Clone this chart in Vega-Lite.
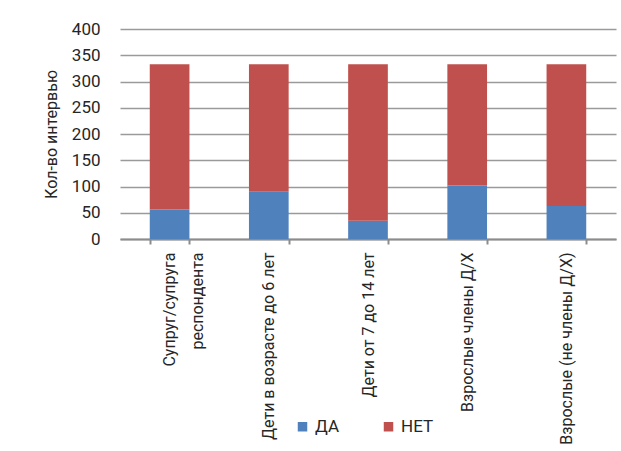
{
  "$schema": "https://vega.github.io/schema/vega-lite/v6.json",
  "autosize": {"type": "none"},
  "width": 496,
  "height": 210,
  "padding": {"left": 120, "top": 29, "right": 5, "bottom": 212},
  "background": "white",
  "data": {
    "values": [
      {"cat": "Супруг/супруга|респондента", "ord": 1, "s": "ДА", "v": 56},
      {"cat": "Супруг/супруга|респондента", "ord": 1, "s": "НЕТ", "v": 277},
      {"cat": "Дети в возрасте до 6 лет", "ord": 2, "s": "ДА", "v": 90},
      {"cat": "Дети в возрасте до 6 лет", "ord": 2, "s": "НЕТ", "v": 243},
      {"cat": "Дети от 7 до 14 лет", "ord": 3, "s": "ДА", "v": 35},
      {"cat": "Дети от 7 до 14 лет", "ord": 3, "s": "НЕТ", "v": 298},
      {"cat": "Взрослые члены Д/Х", "ord": 4, "s": "ДА", "v": 102},
      {"cat": "Взрослые члены Д/Х", "ord": 4, "s": "НЕТ", "v": 231},
      {"cat": "Взрослые (не члены Д/Х)", "ord": 5, "s": "ДА", "v": 63},
      {"cat": "Взрослые (не члены Д/Х)", "ord": 5, "s": "НЕТ", "v": 270}
    ]
  },
  "mark": {"type": "bar"},
  "encoding": {
    "x": {
      "field": "cat",
      "type": "nominal",
      "sort": {"field": "ord"},
      "scale": {"paddingInner": 0.6, "paddingOuter": 0.3},
      "axis": {
        "title": null,
        "labelAngle": -90,
        "labelAlign": "right",
        "labelBaseline": "middle",
        "labelExpr": "split(datum.label, '|')",
        "labelFont": "Roboto",
        "labelFontSize": 16,
        "labelColor": "#262626",
        "labelPadding": 8,
        "labelLineHeight": 28,
        "tickBand": "extent",
        "tickSize": 5,
        "tickColor": "#8c8c8c",
        "tickWidth": 2,
        "domainColor": "#8c8c8c",
        "domainWidth": 2,
        "grid": false,
        "labelLimit": 300
      }
    },
    "y": {
      "field": "v",
      "type": "quantitative",
      "stack": "zero",
      "scale": {"domain": [0, 400]},
      "axis": {
        "title": "Кол-во интервью",
        "titleFont": "Roboto",
        "titleFontSize": 16,
        "titleFontWeight": "normal",
        "titleColor": "#262626",
        "titlePadding": 12,
        "values": [0, 50, 100, 150, 200, 250, 300, 350, 400],
        "labelFont": "Roboto",
        "labelFontSize": 17,
        "labelColor": "#262626",
        "labelPadding": 20,
        "ticks": false,
        "domain": false,
        "grid": true,
        "gridColor": "#9a9a9a",
        "gridWidth": 1.5
      }
    },
    "color": {
      "field": "s",
      "type": "nominal",
      "scale": {"domain": ["ДА", "НЕТ"], "range": ["#4F81BD", "#C0504D"]},
      "legend": {
        "title": null,
        "orient": "none",
        "direction": "horizontal",
        "legendX": 174,
        "legendY": 389,
        "symbolType": "square",
        "symbolSize": 90,
        "symbolStrokeWidth": 0,
        "labelFont": "Roboto",
        "labelFontSize": 17,
        "labelColor": "#262626",
        "labelOffset": 4,
        "columnPadding": 40
      }
    },
    "order": {"field": "s", "sort": "ascending"}
  },
  "config": {"view": {"stroke": null}}
}
